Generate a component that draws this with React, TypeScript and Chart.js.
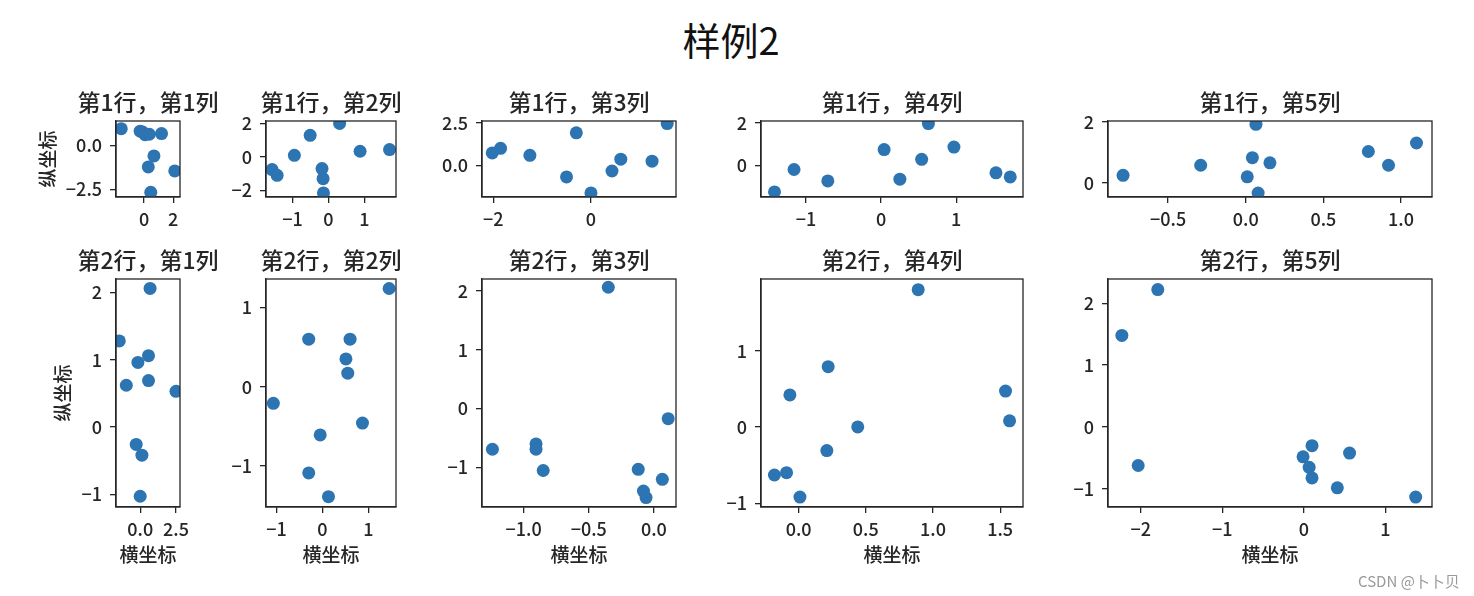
import React, { useEffect, useRef } from "react";
import { Chart, registerables } from "chart.js";

Chart.register(...registerables);

// ---------- data ----------
const x11 = [-1.57, -0.27, -0.1, 0.07, 0.36, 1.2, 0.68, 0.29, 2.11, 0.46];
const y11 = [0.97, 0.83, 0.78, 0.63, 0.65, 0.69, -0.59, -1.22, -1.45, -2.67];
const x12 = [-1.57, -1.43, -0.95, -0.51, 0.31, 0.88, 1.7, -0.18, -0.15, -0.14];
const y12 = [-0.75, -1.09, 0.1, 1.29, 1.99, 0.34, 0.44, -0.69, -1.29, -2.14];
const x13 = [-2.02, -1.85, -1.25, -0.3, -0.5, 0.0, 0.43, 0.61, 1.25, 1.56];
const y13 = [0.73, 1.0, 0.59, 1.92, -0.69, -1.64, -0.34, 0.36, 0.24, 2.47];
const x14 = [-1.42, -1.16, -0.71, 0.04, 0.25, 0.54, 0.63, 0.97, 1.53, 1.72];
const y14 = [-1.26, -0.2, -0.74, 0.74, -0.66, 0.28, 1.97, 0.86, -0.36, -0.55];
const x15 = [-0.79, -0.29, 0.066, 0.043, 0.156, 0.01, 0.08, 0.79, 0.92, 1.1];
const y15 = [0.25, 0.58, 1.92, 0.83, 0.66, 0.2, -0.33, 1.03, 0.58, 1.31];
const x21 = [0.69, -1.46, 0.58, -0.16, -0.97, 0.58, 2.5, -0.28, 0.12, 0.0];
const y21 = [2.06, 1.28, 1.06, 0.96, 0.62, 0.69, 0.53, -0.26, -0.42, -1.03];
const x22 = [-1.07, -0.3, 0.6, 0.51, 0.55, 1.45, -0.05, 0.87, -0.3, 0.13];
const y22 = [-0.21, 0.6, 0.6, 0.35, 0.17, 1.24, -0.61, -0.46, -1.09, -1.39];
const x23 = [-1.24, -0.905, -0.905, -0.85, -0.35, -0.12, -0.08, -0.06, 0.065, 0.11];
const y23 = [-0.69, -0.6, -0.69, -1.05, 2.06, -1.03, -1.4, -1.51, -1.2, -0.17];
const x24 = [-0.18, -0.09, 0.01, -0.065, 0.22, 0.21, 0.44, 0.89, 1.54, 1.57];
const y24 = [-0.63, -0.6, -0.92, 0.42, 0.79, -0.31, 0.0, 1.8, 0.47, 0.08];
const x25 = [-2.23, -1.79, -2.03, 0.1, -0.01, 0.065, 0.1, 0.56, 0.41, 1.37];
const y25 = [1.48, 2.22, -0.62, -0.3, -0.48, -0.65, -0.82, -0.42, -0.98, -1.13];

// axis limits [min, max]
const xLim11 = [-1.93, 2.47];
const yLim11 = [-2.94, 1.41];
const xLim12 = [-1.74, 1.88];
const yLim12 = [-2.38, 2.14];
const xLim13 = [-2.23, 1.74];
const yLim13 = [-1.88, 2.62];
const xLim14 = [-1.6, 1.89];
const yLim14 = [-1.5, 2.09];
const xLim15 = [-0.887, 1.2];
const yLim15 = [-0.46, 2.03];
const xLim21 = [-1.69, 2.78];
const yLim21 = [-1.19, 2.2];
const xLim22 = [-1.23, 1.6];
const yLim22 = [-1.52, 1.36];
const xLim23 = [-1.32, 0.17];
const yLim23 = [-1.67, 2.2];
const xLim24 = [-0.28, 1.67];
const yLim24 = [-1.05, 1.94];
const xLim25 = [-2.4, 1.57];
const yLim25 = [-1.29, 2.39];

// tick labels
const xTicks11 = ["0", "2"];
const yTicks11 = ["−2.5", "0.0"];
const xTicks12 = ["−1", "0", "1"];
const yTicks12 = ["−2", "0", "2"];
const xTicks13 = ["−2", "0"];
const yTicks13 = ["0.0", "2.5"];
const xTicks14 = ["−1", "0", "1"];
const yTicks14 = ["0", "2"];
const xTicks15 = ["−0.5", "0.0", "0.5", "1.0"];
const yTicks15 = ["0", "2"];
const xTicks21 = ["0.0", "2.5"];
const yTicks21 = ["−1", "0", "1", "2"];
const xTicks22 = ["−1", "0", "1"];
const yTicks22 = ["−1", "0", "1"];
const xTicks23 = ["−1.0", "−0.5", "0.0"];
const yTicks23 = ["−1", "0", "1", "2"];
const xTicks24 = ["0.0", "0.5", "1.0", "1.5"];
const yTicks24 = ["−1", "0", "1"];
const xTicks25 = ["−2", "−1", "0", "1"];
const yTicks25 = ["−1", "0", "1", "2"];

const SUPTITLE = "样例2";
const X_LABEL = "横坐标";
const Y_LABEL = "纵坐标";
const WATERMARK = "CSDN @卜卜贝";

const PANELS = [
  [
    { xs: x11, ys: y11, xl: xLim11, yl: yLim11, xt: xTicks11, yt: yTicks11 },
    { xs: x12, ys: y12, xl: xLim12, yl: yLim12, xt: xTicks12, yt: yTicks12 },
    { xs: x13, ys: y13, xl: xLim13, yl: yLim13, xt: xTicks13, yt: yTicks13 },
    { xs: x14, ys: y14, xl: xLim14, yl: yLim14, xt: xTicks14, yt: yTicks14 },
    { xs: x15, ys: y15, xl: xLim15, yl: yLim15, xt: xTicks15, yt: yTicks15 },
  ],
  [
    { xs: x21, ys: y21, xl: xLim21, yl: yLim21, xt: xTicks21, yt: yTicks21 },
    { xs: x22, ys: y22, xl: xLim22, yl: yLim22, xt: xTicks22, yt: yTicks22 },
    { xs: x23, ys: y23, xl: xLim23, yl: yLim23, xt: xTicks23, yt: yTicks23 },
    { xs: x24, ys: y24, xl: xLim24, yl: yLim24, xt: xTicks24, yt: yTicks24 },
    { xs: x25, ys: y25, xl: xLim25, yl: yLim25, xt: xTicks25, yt: yTicks25 },
  ],
];

// ---------- layout & style ----------
const COLS = [
  { left: 116, width: 64 },
  { left: 266, width: 130 },
  { left: 482, width: 194 },
  { left: 761, width: 262 },
  { left: 1108, width: 324 },
];
const ROWS = [
  { top: 121, height: 76 },
  { top: 279, height: 228 },
];
const YLABEL_X = [48, 63];
const PAD_L = 110;
const PAD_R = 60;
const PAD_T = 50;
const PAD_B = 70;
const FONT = "'Noto Sans CJK SC', 'Noto Sans', sans-serif";
const INK = "#262626";
const BLUE = "#2c74b2";

const num = (s: string) => parseFloat(s.replace("−", "-"));

function Panel({ r, c }: { r: number; c: number }) {
  const ref = useRef<HTMLCanvasElement | null>(null);
  const p = PANELS[r][c];
  const col = COLS[c];
  const row = ROWS[r];
  const cw = col.width + PAD_L + PAD_R;
  const ch = row.height + PAD_T + PAD_B;
  const canvasLeft = col.left - PAD_L;
  const canvasTop = row.top - PAD_T;

  useEffect(() => {
    if (!ref.current) return;
    const title = `第${r + 1}行，第${c + 1}列`;
    const deco = {
      id: "deco" + r + c,
      afterDraw(chart: any) {
        const { ctx, chartArea } = chart;
        const { left, top, right, bottom } = chartArea;
        ctx.save();
        ctx.strokeStyle = INK;
        ctx.lineWidth = 1.3;
        ctx.strokeRect(left, top, right - left, bottom - top);
        ctx.fillStyle = INK;
        ctx.textAlign = "center";
        ctx.textBaseline = "middle";
        ctx.font = `500 23px ${FONT}`;
        ctx.fillText(title, (left + right) / 2, top - 19);
        if (r === 1) {
          ctx.font = `500 19px ${FONT}`;
          ctx.fillText(X_LABEL, (left + right) / 2, bottom + 48);
        }
        if (c === 0) {
          ctx.font = `500 19px ${FONT}`;
          ctx.translate(YLABEL_X[r] - canvasLeft, (top + bottom) / 2);
          ctx.rotate(-Math.PI / 2);
          ctx.fillText(Y_LABEL, 0, 0);
        }
        ctx.restore();
      },
    };
    const axisCommon = {
      type: "linear" as const,
      grid: {
        display: true,
        drawOnChartArea: false,
        drawTicks: true,
        tickLength: 6,
        color: INK,
        lineWidth: 1.3,
      },
      border: { display: true, color: INK, width: 1.3 },
    };
    const chart = new Chart(ref.current, {
      type: "scatter",
      data: {
        datasets: [
          {
            data: p.xs.map((x, i) => ({ x, y: p.ys[i] })),
            backgroundColor: BLUE,
            borderColor: BLUE,
            pointRadius: 6.5,
            pointHoverRadius: 6.5,
            pointBorderWidth: 0,
            clip: 0,
          },
        ],
      },
      options: {
        responsive: false,
        animation: false,
        events: [],
        layout: { padding: { left: 0, right: PAD_R, top: PAD_T, bottom: 0 } },
        plugins: {
          legend: { display: false },
          tooltip: { enabled: false },
          title: { display: false },
        },
        scales: {
          x: {
            ...axisCommon,
            position: "bottom",
            min: p.xl[0],
            max: p.xl[1],
            afterFit: (s: any) => {
              s.height = PAD_B;
            },
            afterBuildTicks: (s: any) => {
              s.ticks = p.xt.map((t) => ({ value: num(t) }));
            },
            ticks: {
              autoSkip: false,
              maxRotation: 0,
              padding: 5,
              color: INK,
              font: { size: 18, family: FONT, weight: "500" },
              callback: (_v: any, i: number) => p.xt[i],
            },
          },
          y: {
            ...axisCommon,
            position: "left",
            min: p.yl[0],
            max: p.yl[1],
            afterFit: (s: any) => {
              s.width = PAD_L;
            },
            afterBuildTicks: (s: any) => {
              s.ticks = p.yt.map((t) => ({ value: num(t) }));
            },
            ticks: {
              autoSkip: false,
              padding: 8,
              color: INK,
              font: { size: 18, family: FONT, weight: "500" },
              callback: (_v: any, i: number) => p.yt[i],
            },
          },
        },
      },
      plugins: [deco],
    } as any);
    return () => chart.destroy();
  }, [r, c]);

  return (
    <canvas
      ref={ref}
      width={cw}
      height={ch}
      style={{
        position: "absolute",
        left: canvasLeft,
        top: canvasTop,
        width: cw,
        height: ch,
        display: "block",
      }}
    />
  );
}

export default function App() {
  return (
    <div
      style={{
        position: "absolute",
        left: 0,
        top: 0,
        width: 1474,
        height: 596,
        overflow: "hidden",
        background: "#fff",
        fontFamily: FONT,
      }}
    >
      <div
        style={{
          position: "absolute",
          left: 731,
          top: 17,
          transform: "translateX(-50%)",
          fontSize: 38,
          fontWeight: 400,
          lineHeight: "44px",
          color: "#111",
          whiteSpace: "nowrap",
        }}
      >
        {SUPTITLE}
      </div>
      {ROWS.map((_, r) =>
        COLS.map((__, c) => <Panel key={`${r}-${c}`} r={r} c={c} />)
      )}
      <div
        style={{
          position: "absolute",
          left: 1358,
          top: 572,
          fontSize: 15,
          lineHeight: "18px",
          color: "#9a9a9a",
          whiteSpace: "nowrap",
        }}
      >
        {WATERMARK}
      </div>
    </div>
  );
}
